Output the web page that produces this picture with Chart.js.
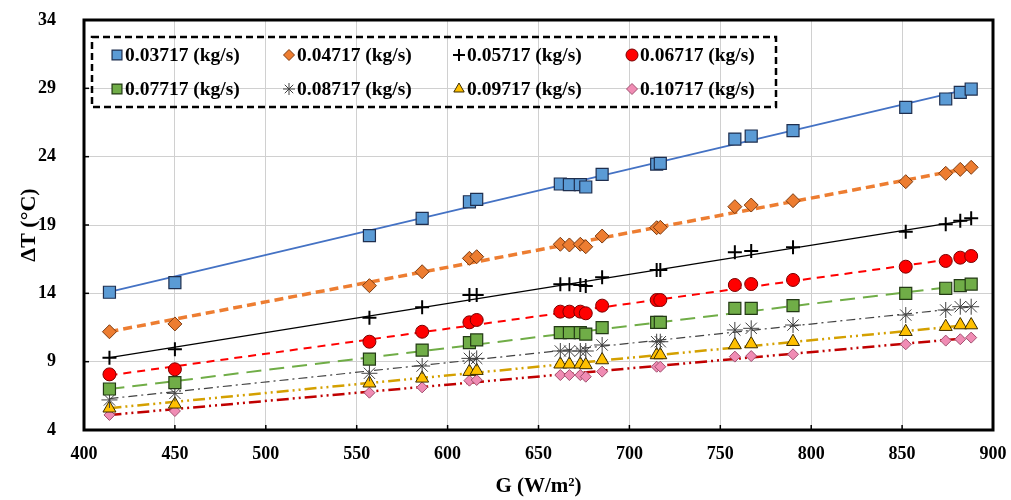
<!DOCTYPE html>
<html>
<head>
<meta charset="utf-8">
<script src="https://cdn.jsdelivr.net/npm/chart.js@4.4.0/dist/chart.umd.min.js"></script>
<style>
	html, body { margin: 0; padding: 0; background: #fff; }
	#wrap { width: 1011px; height: 500px; }
</style>
</head>
<body>
<div id="wrap"><canvas id="chart"></canvas></div>
<script>
// Data.
var flowRates = ["0.03717 (kg/s)", "0.04717 (kg/s)", "0.05717 (kg/s)", "0.06717 (kg/s)", "0.07717 (kg/s)", "0.08717 (kg/s)", "0.09717 (kg/s)", "0.10717 (kg/s)"];
var irradiance = [414, 450, 557, 586, 612, 616, 662, 667, 673, 676, 685, 715, 717, 758, 767, 790, 852, 874, 882, 888];
var dt03717 = [14.08, 14.78, 18.22, 19.49, 20.70, 20.88, 22.00, 21.95, 21.95, 21.78, 22.71, 23.46, 23.51, 25.29, 25.51, 25.90, 27.61, 28.22, 28.71, 28.95];
var dt04717 = [11.19, 11.76, 14.56, 15.58, 16.56, 16.68, 17.59, 17.54, 17.59, 17.41, 18.19, 18.80, 18.83, 20.34, 20.46, 20.78, 22.17, 22.78, 23.07, 23.22];
var dt05717 = [9.29, 9.90, 12.22, 12.98, 13.88, 13.88, 14.66, 14.66, 14.61, 14.54, 15.17, 15.71, 15.71, 17.00, 17.10, 17.37, 18.51, 19.05, 19.32, 19.49];
var dt06717 = [8.07, 8.44, 10.46, 11.19, 11.88, 12.05, 12.66, 12.66, 12.66, 12.54, 13.10, 13.51, 13.51, 14.61, 14.68, 14.98, 15.95, 16.37, 16.61, 16.73];
var dt07717 = [7.00, 7.46, 9.19, 9.85, 10.39, 10.59, 11.12, 11.12, 11.12, 11.02, 11.49, 11.88, 11.88, 12.90, 12.90, 13.10, 14.00, 14.37, 14.56, 14.68];
var dt08717 = [6.20, 6.68, 8.15, 8.68, 9.24, 9.24, 9.78, 9.78, 9.78, 9.78, 10.22, 10.46, 10.46, 11.32, 11.44, 11.68, 12.41, 12.78, 13.02, 13.02];
var dt09717 = [5.59, 5.88, 7.42, 7.78, 8.27, 8.34, 8.81, 8.81, 8.81, 8.76, 9.12, 9.49, 9.49, 10.22, 10.29, 10.46, 11.19, 11.56, 11.68, 11.68];
var dt10717 = [5.10, 5.39, 6.73, 7.12, 7.61, 7.66, 8.02, 8.02, 8.02, 7.90, 8.27, 8.63, 8.63, 9.37, 9.41, 9.54, 10.27, 10.54, 10.64, 10.76];
var trendX = [414, 888];
var trendStart = [14.1, 11.2, 9.3, 8.0, 7.0, 6.3, 5.6, 5.1];
var trendEnd = [29.0, 23.2, 19.4, 16.7, 14.65, 13.0, 11.7, 10.75];

var seriesValues = [dt03717, dt04717, dt05717, dt06717, dt07717, dt08717, dt09717, dt10717];

// Marker and trend line styles.
var styles = [
	{ point: 'rect', r: 8.5, fill: '#5B9BD5', edge: '#1F2F4F', bw: 1.2, line: '#4472C4', lw: 1.8, dash: [] },
	{ point: 'rectRot', r: 7, fill: '#ED7D31', edge: '#7A3A10', bw: 1, line: '#ED7D31', lw: 3.5, dash: [9, 5] },
	{ point: 'cross', r: 7, fill: '#000', edge: '#000', bw: 2, line: '#000', lw: 1.2, dash: [] },
	{ point: 'circle', r: 6.5, fill: '#FF0000', edge: '#7A0000', bw: 1, line: '#FF0000', lw: 2, dash: [8, 6] },
	{ point: 'rect', r: 8.5, fill: '#70AD47', edge: '#233A15', bw: 1.2, line: '#70AD47', lw: 2, dash: [15, 8] },
	{ point: 'star', r: 8, fill: '#404040', edge: '#404040', bw: 1, line: '#404040', lw: 1.2, dash: [9, 4, 2, 4] },
	{ point: 'triangle', r: 7.5, fill: '#FFC000', edge: '#3A2C00', bw: 1, line: '#D4A000', lw: 2.5, dash: [12, 4, 2, 4, 2, 4] },
	{ point: 'rectRot', r: 5.5, fill: '#F08CB4', edge: '#A0506F', bw: 1, line: '#C00000', lw: 2.5, dash: [12, 4, 2, 4, 2, 4] }
];

var datasets = [];
flowRates.forEach(function (name, i) {
	var s = styles[i];
	datasets.push({
		type: 'scatter',
		label: name,
		data: irradiance.map(function (g, k) { return { x: g, y: seriesValues[i][k] }; }),
		pointStyle: s.point,
		pointRadius: s.r,
		backgroundColor: s.fill,
		borderColor: s.edge,
		pointBorderWidth: s.bw,
		showLine: false,
		order: 1
	});
	datasets.push({
		type: 'line',
		label: name + ' trend',
		data: [{ x: trendX[0], y: trendStart[i] }, { x: trendX[1], y: trendEnd[i] }],
		borderColor: s.line,
		borderWidth: s.lw,
		borderDash: s.dash,
		pointRadius: 0,
		fill: false,
		order: 2
	});
});

var serif = "'Liberation Serif', 'DejaVu Serif', serif";

// Frame, inward ticks and the dashed legend box.
var framePlugin = {
	id: 'frame',
	afterDraw: function (chart) {
		var ctx = chart.ctx, a = chart.chartArea;
		var xs = chart.scales.x, ys = chart.scales.y;
		ctx.save();
		ctx.strokeStyle = '#000';
		ctx.lineWidth = 1.5;
		xs.ticks.forEach(function (t) {
			var px = xs.getPixelForValue(t.value);
			ctx.beginPath(); ctx.moveTo(px, a.bottom); ctx.lineTo(px, a.bottom - 5); ctx.stroke();
		});
		ys.ticks.forEach(function (t) {
			var py = ys.getPixelForValue(t.value);
			ctx.beginPath(); ctx.moveTo(a.left, py); ctx.lineTo(a.left + 5, py); ctx.stroke();
		});
		ctx.lineWidth = 3;
		ctx.strokeRect(a.left, a.top, a.right - a.left, a.bottom - a.top);

		// Legend.
		ctx.lineWidth = 2.5;
		ctx.setLineDash([7, 4]);
		ctx.strokeRect(92, 37, 684, 70);
		ctx.setLineDash([]);
		var colX = [117, 289, 459, 632];
		var rowY = [55, 89];
		ctx.font = 'bold 19.5px ' + serif;
		ctx.textBaseline = 'middle';
		ctx.textAlign = 'left';
		flowRates.forEach(function (name, i) {
			var s = styles[i];
			var x = colX[i % 4], y = rowY[Math.floor(i / 4)];
			var r = s.point === 'rectRot' ? 5.5 : (s.point === 'rect' ? 7 : 6);
			ctx.fillStyle = s.fill;
			ctx.strokeStyle = s.edge;
			ctx.lineWidth = s.bw;
			Chart.helpers.drawPoint(ctx, { pointStyle: s.point, radius: r, rotation: 0, borderWidth: s.bw }, x, y);
			ctx.fillStyle = '#000';
			ctx.fillText(name, x + 8, y + 1);
		});
		ctx.restore();
	}
};

new Chart(document.getElementById('chart'), {
	data: { datasets: datasets },
	options: {
		responsive: true,
		maintainAspectRatio: false,
		animation: false,
		layout: { padding: 0 },
		plugins: {
			legend: { display: false },
			tooltip: { enabled: false }
		},
		scales: {
			x: {
				type: 'linear',
				min: 400,
				max: 900,
				ticks: { stepSize: 50, color: '#000', padding: 14, font: { family: serif, size: 18, weight: 'bold' } },
				grid: { color: '#D0D0D0', lineWidth: 1, drawTicks: false },
				border: { display: false },
				title: { display: true, text: 'G (W/m²)', color: '#000', padding: { top: 0, bottom: 1 }, font: { family: serif, size: 21, weight: 'bold' } },
				afterFit: function (scale) {
					scale.height = 70;
					scale.paddingLeft = 0;
					scale.paddingRight = 18;
				}
			},
			y: {
				min: 4,
				max: 34,
				ticks: { stepSize: 5, color: '#000', padding: 28, font: { family: serif, size: 18, weight: 'bold' } },
				grid: { color: '#D0D0D0', lineWidth: 1, drawTicks: false },
				border: { display: false },
				title: { display: true, text: 'ΔT (°C)', color: '#000', padding: { top: 16, bottom: 0 }, font: { family: serif, size: 22, weight: 'bold' } },
				afterFit: function (scale) {
					scale.width = 84;
					scale.paddingTop = 20;
					scale.paddingBottom = 0;
				}
			}
		}
	},
	plugins: [framePlugin]
});
</script>
</body>
</html>
